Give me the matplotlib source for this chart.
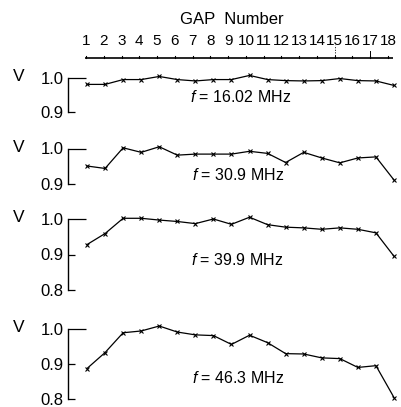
import numpy as np
import matplotlib
matplotlib.use("Agg")
import matplotlib.pyplot as plt
from matplotlib.transforms import blended_transform_factory

plt.rcParams['font.family'] = ['Liberation Sans', 'DejaVu Sans']
plt.rcParams['mathtext.fontset'] = 'custom'
plt.rcParams['mathtext.rm'] = 'Liberation Sans'
plt.rcParams['mathtext.it'] = 'Liberation Sans:italic'

# ---- data ----
gaps = list(range(1, 19))
gap_labels = [str(g) for g in gaps]
freq_labels = ["16.02", "30.9", "39.9", "46.3"]
v_16 = [0.980, 0.980, 0.994, 0.994, 1.003, 0.994, 0.990, 0.994, 0.994,
        1.006, 0.994, 0.991, 0.990, 0.991, 0.997, 0.991, 0.990, 0.977]
v_30 = [0.950, 0.943, 1.002, 0.989, 1.005, 0.981, 0.984, 0.984, 0.984,
        0.992, 0.986, 0.960, 0.989, 0.973, 0.959, 0.973, 0.976, 0.910]
v_39 = [0.928, 0.959, 1.002, 1.002, 0.997, 0.993, 0.987, 1.000, 0.985,
        1.005, 0.984, 0.977, 0.975, 0.971, 0.975, 0.971, 0.961, 0.895]
v_46 = [0.887, 0.932, 0.988, 0.993, 1.007, 0.990, 0.982, 0.980, 0.955,
        0.981, 0.960, 0.929, 0.928, 0.917, 0.915, 0.890, 0.895, 0.805]
series = [v_16, v_30, v_39, v_46]
yticks_1 = [[1.0], [1.0], [1.0], [1.0]]
yticks_minor = [[0.9], [0.9], [0.9, 0.8], [0.9, 0.8]]

W, H = 402, 407
fig = plt.figure(figsize=(W / 100, H / 100), dpi=100)

def fx(px):
    return px / W

def fy(py):
    return 1 - py / H

# panel layout: (pixel y of 1.0, px per unit V, ylo, yhi)
layout = [(77.5, 345, 0.89, 1.025),
          (148.5, 350, 0.89, 1.025),
          (219.0, 355, 0.79, 1.025),
          (328.5, 354, 0.79, 1.025)]
title_pos = [(241, 97), (238, 175), (237, 260), (238, 378)]

x_left_px, x_right_px = 68, 400
x1_px, x18_px = 87, 394
ppx = (x18_px - x1_px) / 17.0
xlo = 1 - (x1_px - x_left_px) / ppx
xhi = 18 + (x_right_px - x18_px) / ppx

for i, (y1, ppu, ylo, yhi) in enumerate(layout):
    top_px = y1 - (yhi - 1.0) * ppu
    bot_px = y1 + (1.0 - ylo) * ppu
    ax = fig.add_axes([fx(x_left_px), fy(bot_px), fx(x_right_px - x_left_px),
                       (bot_px - top_px) / H])
    ax.set_xlim(xlo, xhi)
    ax.set_ylim(ylo, yhi)
    ax.patch.set_alpha(0)
    for s in ['top', 'right', 'bottom']:
        ax.spines[s].set_visible(False)
    low = min(yticks_minor[i])
    ax.spines['left'].set_bounds(low, 1.0)
    ax.spines['left'].set_linewidth(1.0)
    ax.set_xticks([])
    ax.set_yticks(yticks_1[i])
    ax.set_yticklabels(['1.0'])
    ax.set_yticks(yticks_minor[i], minor=True)
    ax.set_yticklabels([f"{t:.1f}" for t in yticks_minor[i]], minor=True)
    ax.tick_params(axis='y', which='major', direction='in', length=13,
                   width=0.9, labelsize=12, pad=3)
    ax.tick_params(axis='y', which='minor', direction='in', length=5,
                   width=0.9, labelsize=12, pad=3)
    ax.plot(gaps, series[i], color='black', lw=0.9, marker='x', ms=3.2,
            mew=0.8)
    tr = blended_transform_factory(fig.transFigure, ax.transData)
    ax.text(fx(19), 1.004, "V", transform=tr, fontsize=12.5, ha='center',
            va='center')
    tx, ty = title_pos[i]
    fig.text(fx(tx), fy(ty), rf"$f$ = {freq_labels[i]} MHz", fontsize=11.5,
             ha='center', va='center')

# top gap-number axis
g1_px, g18_px = 86, 388
pg = (g18_px - g1_px) / 17.0
line_l, line_r = 85, 393
axt = fig.add_axes([fx(line_l), fy(60), fx(line_r - line_l), 20 / H])
axt.set_xlim(1 - (g1_px - line_l) / pg, 18 + (line_r - g18_px) / pg)
axt.set_ylim(0, 1)
axt.axis('off')
axt.plot([axt.get_xlim()[0], axt.get_xlim()[1]], [0.1, 0.1], color='black',
         lw=1.2)
for g in gaps:
    axt.plot([g, g], [0.1, 0.2], color='black', lw=0.8)
axt.plot([15, 15], [0.1, 0.75], color='black', lw=0.7, ls=':')
axt.plot([17, 17], [0.1, 0.45], color='black', lw=0.7)
for g, lab in zip(gaps, gap_labels):
    fig.text(fx(g1_px + (g - 1) * pg), fy(41), lab, fontsize=11,
             ha='center', va='center')
fig.text(fx(232), fy(20), "GAP  Number", fontsize=12, ha='center',
         va='center')

fig.savefig("out.png", dpi=100)
